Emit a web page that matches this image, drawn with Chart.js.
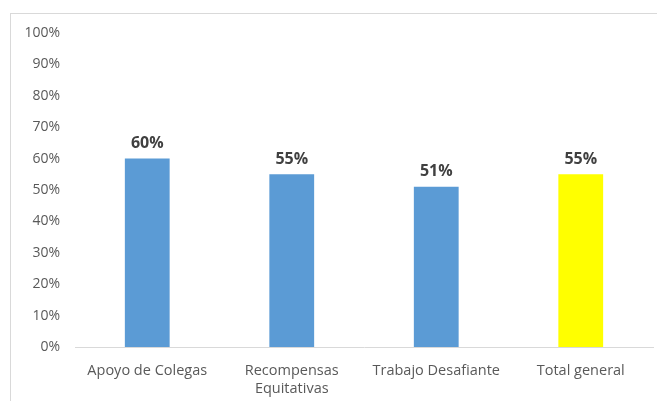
<!DOCTYPE html>
<html>
<head>
<meta charset="utf-8">
<script src="https://cdn.jsdelivr.net/npm/chart.js@4/dist/chart.umd.min.js"></script>
<style>
  html, body { margin: 0; padding: 0; background: #ffffff; }
  #wrap { position: relative; width: 657px; height: 401px; overflow: hidden; }
  #frame { position: absolute; left: 10px; top: 13px; width: 700px; height: 450px; border: 1px solid #d9d9d9; box-sizing: border-box; }
  canvas { position: absolute; left: 0; top: 0; }
</style>
</head>
<body>
<div id="wrap">
  <div id="frame"></div>
  <canvas id="chart" width="657" height="401"></canvas>
</div>
<script>
const categories = ['Apoyo de Colegas', ['Recompensas', 'Equitativas'], 'Trabajo Desafiante', 'Total general'];
const values = [60, 55, 51, 55];
const barColors = ['#5b9bd5', '#5b9bd5', '#5b9bd5', '#ffff00'];
const yTicks = [0, 10, 20, 30, 40, 50, 60, 70, 80, 90, 100];

const FONT = "'Open Sans', 'Liberation Sans', sans-serif";

// Bold percentage label above each bar
const valueLabels = {
  id: 'valueLabels',
  afterDatasetsDraw(chart) {
    const ctx = chart.ctx;
    const meta = chart.getDatasetMeta(0);
    ctx.save();
    ctx.font = "bold 16px " + FONT;
    ctx.fillStyle = '#404040';
    ctx.textAlign = 'center';
    ctx.textBaseline = 'bottom';
    meta.data.forEach((bar, i) => {
      ctx.fillText(values[i] + '%', bar.x, bar.y - 7);
    });
    ctx.restore();
  }
};

new Chart(document.getElementById('chart'), {
  type: 'bar',
  data: {
    labels: categories,
    datasets: [{
      data: values,
      backgroundColor: barColors,
      categoryPercentage: 1,
      barPercentage: 0.31
    }]
  },
  options: {
    responsive: false,
    animation: false,
    layout: { padding: { top: 33, right: 4, bottom: 0, left: 0 } },
    plugins: { legend: { display: false }, tooltip: { enabled: false } },
    scales: {
      x: {
        grid: { display: false, drawTicks: false },
        border: { color: '#d9d9d9', width: 1 },
        ticks: { color: '#595959', font: { family: FONT, size: 14.5, lineHeight: 1.25 }, padding: 15, maxRotation: 0, autoSkip: false },
        afterFit(scale) { scale.height = 54; }
      },
      y: {
        min: 0,
        max: 100,
        grid: { display: false, drawTicks: false },
        border: { display: false },
        afterBuildTicks(scale) { scale.ticks = yTicks.map(v => ({ value: v })); },
        ticks: {
          color: '#595959',
          font: { family: FONT, size: 14 },
          padding: 15,
          callback: v => v + '%'
        },
        afterFit(scale) { scale.width = 75; }
      }
    }
  },
  plugins: [valueLabels]
});
</script>
</body>
</html>
